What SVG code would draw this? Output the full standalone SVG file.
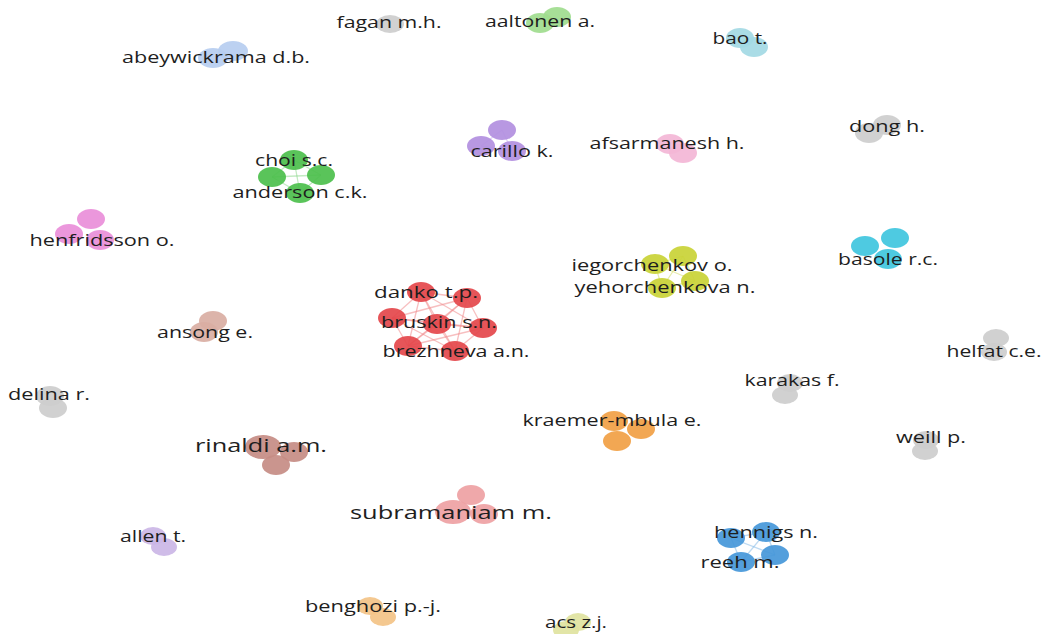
<svg xmlns="http://www.w3.org/2000/svg" width="1042" height="634" viewBox="0 0 1042 634">
<style>
text{font-family:"Open Sans","DejaVu Sans",sans-serif;font-size:16px;fill:#1e1e1e;text-anchor:middle}
text.big{font-size:19px}
ellipse{stroke:none;fill-opacity:0.92}
.e line{stroke-width:1.3;stroke-opacity:0.55}
.gray{fill:#cdcdcd}.lgreen{fill:#9fdc8e}.lcyan{fill:#a3d9e4}.lblue{fill:#b6cdf0}
.green{fill:#4cbf4c}.purple{fill:#b28fe0}.lpink{fill:#f3b6d6}.cyan{fill:#3fc6de}
.magenta{fill:#e98ed9}.tan{fill:#d9aea3}.red{fill:#e4474b}.yellow{fill:#c9d236}
.orange{fill:#f1a044}.brown{fill:#c58c84}.salmon{fill:#eea1a3}.lav{fill:#cbb6e6}
.peach{fill:#f3c387}.lyellow{fill:#dfe39f}.blue{fill:#4597d9}
</style>
<rect width="1042" height="634" fill="#ffffff"/>
<g id="connectors" class="e">
 <g stroke="#8fd88f">
  <line x1="294" y1="160" x2="272" y2="177"/><line x1="294" y1="160" x2="321" y2="175"/><line x1="294" y1="160" x2="300" y2="193"/>
  <line x1="272" y1="177" x2="321" y2="175"/><line x1="272" y1="177" x2="300" y2="193"/><line x1="321" y1="175" x2="300" y2="193"/>
 </g>
 <g stroke="#c8b0ec">
  <line x1="502" y1="130" x2="481" y2="146"/><line x1="502" y1="130" x2="512" y2="151"/><line x1="481" y1="146" x2="512" y2="151"/>
 </g>
 <g stroke="#f08a8c">
  <line x1="421" y1="292" x2="467" y2="298"/><line x1="421" y1="292" x2="392" y2="318"/><line x1="421" y1="292" x2="437" y2="324"/><line x1="421" y1="292" x2="483" y2="328"/><line x1="421" y1="292" x2="408" y2="346"/><line x1="421" y1="292" x2="455" y2="351"/>
  <line x1="467" y1="298" x2="392" y2="318"/><line x1="467" y1="298" x2="437" y2="324"/><line x1="467" y1="298" x2="483" y2="328"/><line x1="467" y1="298" x2="408" y2="346"/><line x1="467" y1="298" x2="455" y2="351"/>
  <line x1="392" y1="318" x2="437" y2="324"/><line x1="392" y1="318" x2="483" y2="328"/><line x1="392" y1="318" x2="408" y2="346"/><line x1="392" y1="318" x2="455" y2="351"/>
  <line x1="437" y1="324" x2="483" y2="328"/><line x1="437" y1="324" x2="408" y2="346"/><line x1="437" y1="324" x2="455" y2="351"/>
  <line x1="483" y1="328" x2="408" y2="346"/><line x1="483" y1="328" x2="455" y2="351"/><line x1="408" y1="346" x2="455" y2="351"/>
 </g>
 <g stroke="#d4dc6a">
  <line x1="655" y1="264" x2="683" y2="256"/><line x1="655" y1="264" x2="695" y2="281"/><line x1="655" y1="264" x2="662" y2="288"/>
  <line x1="683" y1="256" x2="695" y2="281"/><line x1="683" y1="256" x2="662" y2="288"/><line x1="695" y1="281" x2="662" y2="288"/>
 </g>
 <g stroke="#86bbe8">
  <line x1="731" y1="538" x2="766" y2="532"/><line x1="731" y1="538" x2="775" y2="555"/><line x1="731" y1="538" x2="741" y2="562"/>
  <line x1="766" y1="532" x2="775" y2="555"/><line x1="766" y1="532" x2="741" y2="562"/><line x1="775" y1="555" x2="741" y2="562"/>
 </g>
</g>
<g id="fagan"><ellipse class="gray" cx="390" cy="24" rx="14" ry="9"/><text x="389" y="28" textLength="105" lengthAdjust="spacingAndGlyphs">fagan m.h.</text></g>
<g id="aaltonen"><ellipse class="lgreen" cx="557" cy="17" rx="14" ry="10"/><ellipse class="lgreen" cx="540" cy="23" rx="14" ry="10"/><text x="540" y="27" textLength="110" lengthAdjust="spacingAndGlyphs">aaltonen a.</text></g>
<g id="bao"><ellipse class="lcyan" cx="740" cy="38" rx="14" ry="10"/><ellipse class="lcyan" cx="754" cy="47" rx="14" ry="10"/><text x="740" y="44" textLength="55" lengthAdjust="spacingAndGlyphs">bao t.</text></g>
<g id="abeywickrama"><ellipse class="lblue" cx="233" cy="51" rx="15" ry="10"/><ellipse class="lblue" cx="213" cy="58" rx="15" ry="10"/><text x="216" y="63" textLength="188" lengthAdjust="spacingAndGlyphs">abeywickrama d.b.</text></g>
<g id="choi-anderson"><ellipse class="green" cx="294" cy="160" rx="14" ry="10"/><ellipse class="green" cx="272" cy="177" rx="14" ry="10"/><ellipse class="green" cx="321" cy="175" rx="14" ry="10"/><ellipse class="green" cx="300" cy="193" rx="14" ry="10"/>
 <text x="294" y="166" textLength="78" lengthAdjust="spacingAndGlyphs">choi s.c.</text><text x="300" y="198" textLength="135" lengthAdjust="spacingAndGlyphs">anderson c.k.</text></g>
<g id="carillo"><ellipse class="purple" cx="502" cy="130" rx="14" ry="10"/><ellipse class="purple" cx="481" cy="146" rx="14" ry="10"/><ellipse class="purple" cx="512" cy="151" rx="14" ry="10"/><text x="512" y="157" textLength="83" lengthAdjust="spacingAndGlyphs">carillo k.</text></g>
<g id="afsarmanesh"><ellipse class="lpink" cx="670" cy="144" rx="14" ry="10"/><ellipse class="lpink" cx="683" cy="153" rx="14" ry="10"/><text x="667" y="149" textLength="155" lengthAdjust="spacingAndGlyphs">afsarmanesh h.</text></g>
<g id="dong"><ellipse class="gray" cx="887" cy="125" rx="14" ry="10"/><ellipse class="gray" cx="869" cy="133" rx="14" ry="10"/><text x="887" y="132" textLength="76" lengthAdjust="spacingAndGlyphs">dong h.</text></g>
<g id="basole"><ellipse class="cyan" cx="895" cy="238" rx="14" ry="10"/><ellipse class="cyan" cx="865" cy="246" rx="14" ry="10"/><ellipse class="cyan" cx="888" cy="259" rx="14" ry="10"/><text x="888" y="265" textLength="100" lengthAdjust="spacingAndGlyphs">basole r.c.</text></g>
<g id="henfridsson"><ellipse class="magenta" cx="91" cy="219" rx="14" ry="10"/><ellipse class="magenta" cx="69" cy="234" rx="14" ry="10"/><ellipse class="magenta" cx="100" cy="240" rx="14" ry="10"/><text x="102" y="246" textLength="145" lengthAdjust="spacingAndGlyphs">henfridsson o.</text></g>
<g id="ansong"><ellipse class="tan" cx="213" cy="321" rx="14" ry="10"/><ellipse class="tan" cx="204" cy="332" rx="14" ry="10"/><text x="205" y="338" textLength="96" lengthAdjust="spacingAndGlyphs">ansong e.</text></g>
<g id="delina"><ellipse class="gray" cx="50" cy="396" rx="14" ry="10"/><ellipse class="gray" cx="53" cy="408" rx="14" ry="10"/><text x="49" y="400" textLength="82" lengthAdjust="spacingAndGlyphs">delina r.</text></g>
<g id="danko-bruskin-brezhneva"><ellipse class="red" cx="421" cy="292" rx="14" ry="10"/><ellipse class="red" cx="467" cy="298" rx="14" ry="10"/><ellipse class="red" cx="392" cy="318" rx="14" ry="10"/><ellipse class="red" cx="437" cy="324" rx="14" ry="10"/><ellipse class="red" cx="483" cy="328" rx="14" ry="10"/><ellipse class="red" cx="408" cy="346" rx="14" ry="10"/><ellipse class="red" cx="455" cy="351" rx="14" ry="10"/>
 <text x="426" y="298" textLength="104" lengthAdjust="spacingAndGlyphs">danko t.p.</text><text x="439" y="328" textLength="116" lengthAdjust="spacingAndGlyphs">bruskin s.n.</text><text x="456" y="357" textLength="147" lengthAdjust="spacingAndGlyphs">brezhneva a.n.</text></g>
<g id="iegorchenkov"><ellipse class="yellow" cx="655" cy="264" rx="14" ry="10"/><ellipse class="yellow" cx="683" cy="256" rx="14" ry="10"/><ellipse class="yellow" cx="695" cy="281" rx="14" ry="10"/><ellipse class="yellow" cx="662" cy="288" rx="14" ry="10"/>
 <text x="652" y="271" textLength="161" lengthAdjust="spacingAndGlyphs">iegorchenkov o.</text><text x="665" y="293" textLength="181" lengthAdjust="spacingAndGlyphs">yehorchenkova n.</text></g>
<g id="helfat"><ellipse class="gray" cx="996" cy="338" rx="13" ry="9"/><ellipse class="gray" cx="994" cy="352" rx="13" ry="9"/><text x="994" y="357" textLength="95" lengthAdjust="spacingAndGlyphs">helfat c.e.</text></g>
<g id="karakas"><ellipse class="gray" cx="790" cy="383" rx="13" ry="9"/><ellipse class="gray" cx="785" cy="395" rx="13" ry="9"/><text x="792" y="386" textLength="95" lengthAdjust="spacingAndGlyphs">karakas f.</text></g>
<g id="kraemer-mbula"><ellipse class="orange" cx="614" cy="421" rx="14" ry="10"/><ellipse class="orange" cx="641" cy="429" rx="14" ry="10"/><ellipse class="orange" cx="617" cy="441" rx="14" ry="10"/><text x="612" y="426" textLength="179" lengthAdjust="spacingAndGlyphs">kraemer-mbula e.</text></g>
<g id="weill"><ellipse class="gray" cx="926" cy="440" rx="13" ry="9"/><ellipse class="gray" cx="925" cy="451" rx="13" ry="9"/><text x="931" y="443" textLength="70" lengthAdjust="spacingAndGlyphs">weill p.</text></g>
<g id="rinaldi"><ellipse class="brown" cx="263" cy="447" rx="18" ry="12"/><ellipse class="brown" cx="294" cy="452" rx="14" ry="10"/><ellipse class="brown" cx="276" cy="465" rx="14" ry="10"/><text class="big" x="261" y="452" textLength="132" lengthAdjust="spacingAndGlyphs">rinaldi a.m.</text></g>
<g id="subramaniam"><ellipse class="salmon" cx="471" cy="495" rx="14" ry="10"/><ellipse class="salmon" cx="484" cy="514" rx="14" ry="10"/><ellipse class="salmon" cx="453" cy="512" rx="18" ry="12"/><text class="big" x="451" y="519" textLength="202" lengthAdjust="spacingAndGlyphs">subramaniam m.</text></g>
<g id="allen"><ellipse class="lav" cx="153" cy="536" rx="13" ry="9"/><ellipse class="lav" cx="164" cy="547" rx="13" ry="9"/><text x="153" y="542" textLength="66" lengthAdjust="spacingAndGlyphs">allen t.</text></g>
<g id="benghozi"><ellipse class="peach" cx="370" cy="606" rx="13" ry="9"/><ellipse class="peach" cx="383" cy="617" rx="13" ry="9"/><text x="373" y="612" textLength="136" lengthAdjust="spacingAndGlyphs">benghozi p.-j.</text></g>
<g id="acs"><ellipse class="lyellow" cx="578" cy="622" rx="13" ry="9"/><ellipse class="lyellow" cx="566" cy="630" rx="13" ry="9"/><text x="576" y="628" textLength="62" lengthAdjust="spacingAndGlyphs">acs z.j.</text></g>
<g id="hennigs-reeh"><ellipse class="blue" cx="731" cy="538" rx="14" ry="10"/><ellipse class="blue" cx="766" cy="532" rx="14" ry="10"/><ellipse class="blue" cx="775" cy="555" rx="14" ry="10"/><ellipse class="blue" cx="741" cy="562" rx="14" ry="10"/>
 <text x="766" y="538" textLength="104" lengthAdjust="spacingAndGlyphs">hennigs n.</text><text x="740" y="568" textLength="79" lengthAdjust="spacingAndGlyphs">reeh m.</text></g>
</svg>
